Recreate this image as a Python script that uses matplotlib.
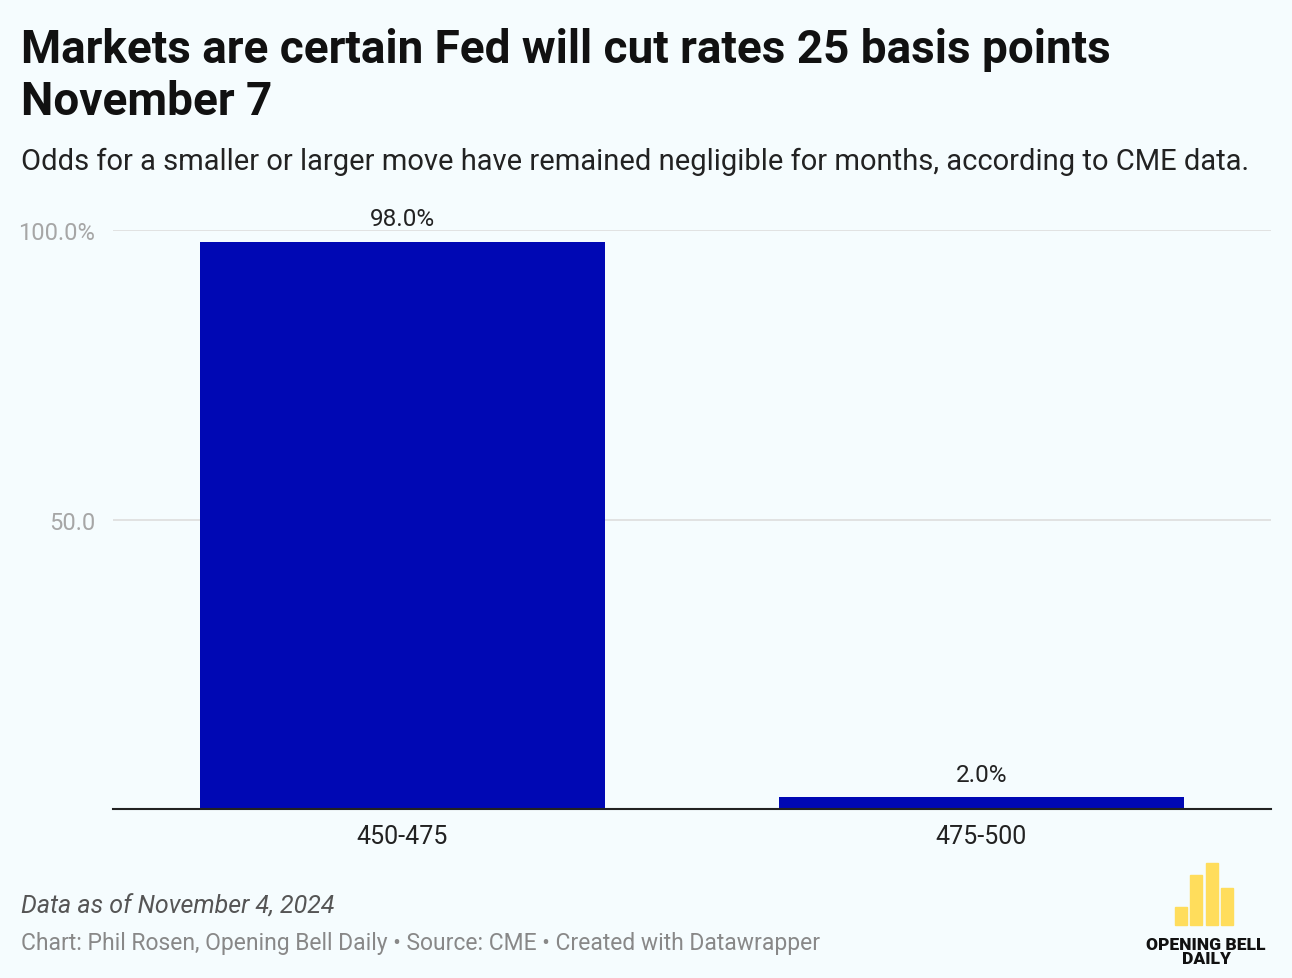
import matplotlib.pyplot as plt
from matplotlib.patches import Rectangle

categories = ['450-475', '475-500']
odds = [98.0, 2.0]
bar_labels = ['98.0%', '2.0%']
yticks = [50, 100]
ytick_labels = ['50.0', '100.0%']

bg = '#F5FCFE'
plt.rcParams['font.family'] = ['Roboto', 'DejaVu Sans']

fig = plt.figure(figsize=(12.92, 9.79), dpi=100, facecolor=bg)
ax = fig.add_axes([0.0875, 0.1726, 0.8962, 0.5914], facecolor=bg)

x = range(len(categories))
ax.bar(x, odds, width=0.7, color='#0008B4', zorder=3)
for xi, v, lab in zip(x, odds, bar_labels):
    ax.text(xi, v + 2.0, lab, ha='center', va='bottom', fontsize=17.5,
            color='#222222', clip_on=False)

ax.set_xlim(-0.5, 1.5)
ax.set_ylim(0, 100)
ax.set_xticks(list(x))
ax.set_xticklabels(categories, fontsize=18, color='#222222')
ax.set_yticks(yticks)
ax.set_yticklabels(ytick_labels, fontsize=17, color='#A6A6A6')
ax.tick_params(axis='both', length=0)
ax.tick_params(axis='x', pad=11)
ax.tick_params(axis='y', pad=13)
ax.yaxis.grid(True, color='#DDDDDD', linewidth=1.2, zorder=0)
for s in ['top', 'right', 'left']:
    ax.spines[s].set_visible(False)
ax.spines['bottom'].set_color('#222222')
ax.spines['bottom'].set_linewidth(1.5)
ax.spines['bottom'].set_zorder(4)

fig.text(0.016, 0.9225, 'Markets are certain Fed will cut rates 25 basis points\nNovember 7',
         fontsize=33, fontweight='bold', color='#111111', va='center', ha='left',
         linespacing=1.22)
fig.text(0.016, 0.8345, 'Odds for a smaller or larger move have remained negligible for months, according to CME data.',
         fontsize=21, color='#222222', va='center', ha='left')
fig.text(0.016, 0.074, 'Data as of November 4, 2024', fontsize=18, style='italic',
         color='#555555', va='center', ha='left')
fig.text(0.016, 0.036, 'Chart: Phil Rosen, Opening Bell Daily \u2022 Source: CME \u2022 Created with Datawrapper',
         fontsize=16.5, color='#888888', va='center', ha='left')

# logo
W, H = 1292, 979
yellow = '#FFDD5C'
for x0, top in [(1175, 908), (1190, 876), (1206, 864), (1221, 889)]:
    fig.patches.append(Rectangle((x0 / W, 1 - 926 / H), 12 / W, (926 - top) / H,
                                 transform=fig.transFigure, color=yellow))
fig.text(1206 / W, 1 - 945 / H, 'OPENING BELL', fontsize=12.5, fontweight='black',
         color='#111111', ha='center', va='center')
fig.text(1206 / W, 1 - 959 / H, 'DAILY', fontsize=12.5, fontweight='black',
         color='#111111', ha='center', va='center')

fig.savefig('out.png', dpi=100, facecolor=bg)
